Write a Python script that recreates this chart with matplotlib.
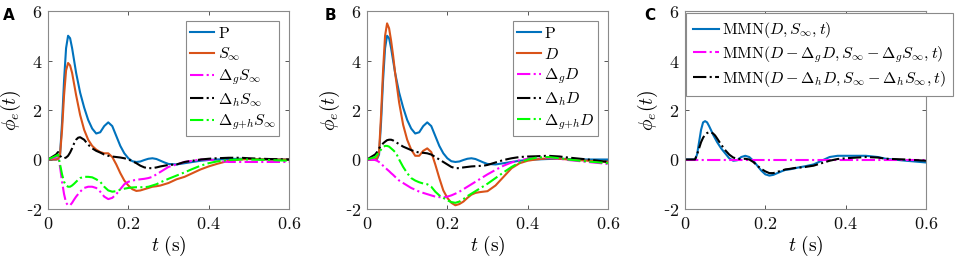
import matplotlib
matplotlib.use("Agg")
import matplotlib.pyplot as plt
from matplotlib.ticker import FuncFormatter

plt.rcParams['font.family'] = ['DejaVu Serif']
plt.rcParams['mathtext.fontset'] = 'cm'

t = [0, 0.02, 0.025, 0.03, 0.035, 0.04, 0.045, 0.05, 0.055, 0.06, 0.065, 0.07, 0.075, 0.08,
     0.09, 0.10, 0.11, 0.12, 0.13, 0.14, 0.15, 0.16, 0.17, 0.18, 0.19, 0.20, 0.21, 0.22,
     0.23, 0.24, 0.25, 0.26, 0.27, 0.28, 0.29, 0.30, 0.32, 0.34, 0.36, 0.38, 0.40, 0.42,
     0.45, 0.48, 0.50, 0.55, 0.60]

P = [0, 0, 0.02, 0.2, 1.5, 3.2, 4.5, 5.0, 4.9, 4.5, 4.0, 3.5, 3.1, 2.7,
     2.1, 1.6, 1.25, 1.05, 1.1, 1.35, 1.5, 1.35, 0.95, 0.55, 0.25, 0.05, -0.07, -0.1,
     -0.08, -0.02, 0.03, 0.05, 0.02, -0.05, -0.12, -0.18, -0.2, -0.15, -0.1, -0.05, -0.02, 0,
     0.02, 0.03, 0.02, 0.0, 0.0]

S_inf = [0, 0, 0.02, 0.2, 1.2, 2.6, 3.6, 3.9, 3.8, 3.5, 3.05, 2.6, 2.2, 1.8,
         1.2, 0.8, 0.55, 0.4, 0.3, 0.25, 0.25, 0.1, -0.2, -0.55, -0.85, -1.05, -1.2, -1.27,
         -1.25, -1.2, -1.15, -1.1, -1.08, -1.05, -1.0, -0.95, -0.8, -0.7, -0.55, -0.4, -0.28, -0.18,
         -0.05, 0, 0.02, 0, 0]

dg_S = [0, 0.1, 0.2, -0.3, -0.9, -1.4, -1.75, -1.85, -1.85, -1.75, -1.62, -1.5, -1.4, -1.3,
        -1.15, -1.1, -1.1, -1.15, -1.3, -1.5, -1.6, -1.55, -1.4, -1.2, -1.0, -0.9, -0.85, -0.82,
        -0.8, -0.78, -0.75, -0.7, -0.6, -0.5, -0.4, -0.3, -0.2, -0.1, -0.05, 0, 0, -0.05,
        -0.1, -0.1, -0.1, -0.1, -0.1]

dh_S = [0, 0.2, 0.3, 0.15, 0.07, 0.05, 0.08, 0.15, 0.28, 0.45, 0.65, 0.8, 0.88, 0.9,
        0.8, 0.6, 0.45, 0.35, 0.28, 0.2, 0.15, 0.12, 0.1, 0.08, 0.05, 0.0, -0.07, -0.15,
        -0.25, -0.32, -0.35, -0.35, -0.32, -0.28, -0.25, -0.22, -0.2, -0.1, -0.05, 0, 0.03, 0.05,
        0.07, 0.07, 0.05, 0.02, 0]

dgh_S = [0, 0.15, 0.2, -0.2, -0.6, -0.9, -1.05, -1.1, -1.1, -1.05, -0.98, -0.9, -0.82, -0.75,
         -0.7, -0.7, -0.72, -0.8, -0.9, -1.1, -1.25, -1.3, -1.28, -1.22, -1.18, -1.15, -1.13, -1.12,
         -1.12, -1.12, -1.1, -1.05, -1.0, -0.92, -0.85, -0.78, -0.65, -0.52, -0.38, -0.25, -0.15, -0.08,
         -0.02, 0, 0, -0.02, -0.05]

D = [0, 0, 0.05, 0.3, 1.8, 3.6, 5.0, 5.5, 5.3, 4.8, 4.2, 3.5, 2.9, 2.3,
     1.4, 0.8, 0.4, 0.15, 0.15, 0.35, 0.45, 0.3, -0.2, -0.75, -1.25, -1.55, -1.75, -1.85,
     -1.8, -1.7, -1.55, -1.42, -1.35, -1.32, -1.3, -1.28, -1.05, -0.7, -0.35, -0.15, -0.05, 0,
     0.05, 0.03, 0, -0.05, -0.1]

dg_D = [0, -0.02, -0.05, -0.1, -0.17, -0.25, -0.32, -0.4, -0.47, -0.55, -0.62, -0.7, -0.77, -0.85,
        -0.95, -1.05, -1.15, -1.22, -1.3, -1.35, -1.4, -1.45, -1.5, -1.52, -1.53, -1.5, -1.45, -1.38,
        -1.3, -1.2, -1.1, -1.0, -0.9, -0.8, -0.7, -0.6, -0.42, -0.25, -0.12, -0.03, 0.03, 0.07,
        0.08, 0.03, -0.02, -0.1, -0.18]

dh_D = [0, 0.2, 0.3, 0.45, 0.55, 0.65, 0.72, 0.78, 0.8, 0.8, 0.77, 0.72, 0.67, 0.62,
        0.52, 0.45, 0.38, 0.32, 0.28, 0.27, 0.25, 0.2, 0.1, 0.0, -0.1, -0.2, -0.3, -0.35,
        -0.35, -0.32, -0.3, -0.28, -0.27, -0.26, -0.25, -0.22, -0.12, -0.02, 0.05, 0.1, 0.12, 0.13,
        0.15, 0.12, 0.08, 0, -0.1]

dgh_D = [0, 0.1, 0.2, 0.3, 0.4, 0.5, 0.55, 0.55, 0.52, 0.45, 0.38, 0.3, 0.17, 0.0,
         -0.3, -0.55, -0.75, -0.85, -0.92, -0.97, -1.0, -1.1, -1.3, -1.45, -1.55, -1.65, -1.72, -1.75,
         -1.7, -1.6, -1.48, -1.38, -1.28, -1.18, -1.08, -0.98, -0.75, -0.52, -0.3, -0.12, 0, 0.07,
         0.1, 0.05, 0, -0.08, -0.15]

MMN = [0, 0, 0, 0.2, 0.7, 1.2, 1.5, 1.55, 1.5, 1.35, 1.18, 1.0, 0.85, 0.7,
       0.45, 0.25, 0.05, -0.05, -0.03, 0.1, 0.15, 0.1, -0.05, -0.25, -0.45, -0.6, -0.65, -0.62,
       -0.55, -0.48, -0.42, -0.4, -0.37, -0.33, -0.3, -0.27, -0.2, -0.05, 0.1, 0.15, 0.15, 0.15,
       0.15, 0.1, 0.03, -0.05, -0.12]

MMN_g = [0.0] * len(t)

MMN_h = [0, 0, 0, 0.2, 0.45, 0.7, 0.88, 1.0, 1.07, 1.1, 1.1, 1.05, 0.97, 0.85,
         0.6, 0.38, 0.2, 0.08, 0.03, 0.02, 0.03, 0.0, -0.1, -0.25, -0.38, -0.48, -0.55, -0.55,
         -0.5, -0.45, -0.4, -0.38, -0.35, -0.33, -0.32, -0.3, -0.25, -0.15, -0.05, 0.02, 0.05, 0.07,
         0.1, 0.08, 0.03, 0, -0.05]

BLUE = '#0072BD'
RED = '#D95319'
MAG = '#FF00FF'
BLK = '#000000'
GRN = '#00FF00'
FRAME = '#8a8a8a'

fig = plt.figure(figsize=(9.57, 2.62), dpi=100)
W, H = 957, 262
lefts = [48, 367, 685]
letter_x = [-0.185, -0.175, -0.168]
axes = []
for l in lefts:
    ax = fig.add_axes([l / W, 1 - 209 / H, 241 / W, (209 - 11) / H])
    axes.append(ax)


def tickfmt(v, p):
    v = round(v, 3)
    if v < 0:
        return '-' + r'$%g$' % (-v)
    return r'$%g$' % v


fmt = FuncFormatter(tickfmt)


def style(ax, letter, lx):
    ax.set_xlim(0, 0.6)
    ax.set_ylim(-2, 6)
    ax.set_xticks([0, 0.2, 0.4, 0.6])
    ax.set_yticks([-2, 0, 2, 4, 6])
    ax.xaxis.set_major_formatter(fmt)
    ax.yaxis.set_major_formatter(fmt)
    ax.tick_params(direction='in', top=True, right=True, labelsize=13, length=3,
                   width=0.7, color='#555555', labelcolor='#111111', pad=4)
    for s in ax.spines.values():
        s.set_linewidth(0.8)
        s.set_color(FRAME)
    ax.set_xlabel(r'$t\ \mathrm{(s)}$', fontsize=14, labelpad=1)
    ax.set_ylabel(r'$\phi_e(t)$', fontsize=14)
    ax.yaxis.set_label_coords(-0.105, 0.5)
    ax.text(lx, 1.015, letter, transform=ax.transAxes, fontsize=11, fontweight='bold',
            family='DejaVu Sans', va='top', ha='left')


lw = 1.5
ax = axes[0]
ax.plot(t, P, color=BLUE, lw=lw, label=r'$\mathrm{P}$')
ax.plot(t, S_inf, color=RED, lw=lw, label=r'$S_\infty$')
ax.plot(t, dg_S, color=MAG, lw=lw, ls='-.', label=r'$\Delta_g S_\infty$')
ax.plot(t, dh_S, color=BLK, lw=lw, ls='-.', label=r'$\Delta_h S_\infty$')
ax.plot(t, dgh_S, color=GRN, lw=lw, ls='-.', label=r'$\Delta_{g{+}h} S_\infty$')
style(ax, 'A', letter_x[0])

ax = axes[1]
ax.plot(t, P, color=BLUE, lw=lw, label=r'$\mathrm{P}$')
ax.plot(t, D, color=RED, lw=lw, label=r'$D$')
ax.plot(t, dg_D, color=MAG, lw=lw, ls='-.', label=r'$\Delta_g D$')
ax.plot(t, dh_D, color=BLK, lw=lw, ls='-.', label=r'$\Delta_h D$')
ax.plot(t, dgh_D, color=GRN, lw=lw, ls='-.', label=r'$\Delta_{g{+}h} D$')
style(ax, 'B', letter_x[1])

ax = axes[2]
ax.plot(t, MMN, color=BLUE, lw=lw, label=r'$\mathrm{MMN}(D, S_\infty, t)$')
ax.plot(t, MMN_g, color=MAG, lw=lw, ls='-.',
        label=r'$\mathrm{MMN}(D-\Delta_g D, S_\infty-\Delta_g S_\infty, t)$')
ax.plot(t, MMN_h, color=BLK, lw=lw, ls='-.',
        label=r'$\mathrm{MMN}(D-\Delta_h D, S_\infty-\Delta_h S_\infty, t)$')
style(ax, 'C', letter_x[2])

legkw = dict(fancybox=False, framealpha=1, edgecolor=FRAME, handletextpad=0.2)
for a in axes[:2]:
    lg = a.legend(loc='upper right', borderaxespad=0.6, fontsize=11.5, handlelength=1.5,
                  labelspacing=0.25, borderpad=0.25, **legkw)
    lg.get_frame().set_linewidth(0.8)
lg = axes[2].legend(loc='upper left', bbox_to_anchor=(0.005, 0.99), borderaxespad=0.0,
                    fontsize=11.5, handlelength=1.6, labelspacing=0.25, borderpad=0.45, **legkw)
lg.get_frame().set_linewidth(0.8)

fig.savefig('out.png', dpi=100)
